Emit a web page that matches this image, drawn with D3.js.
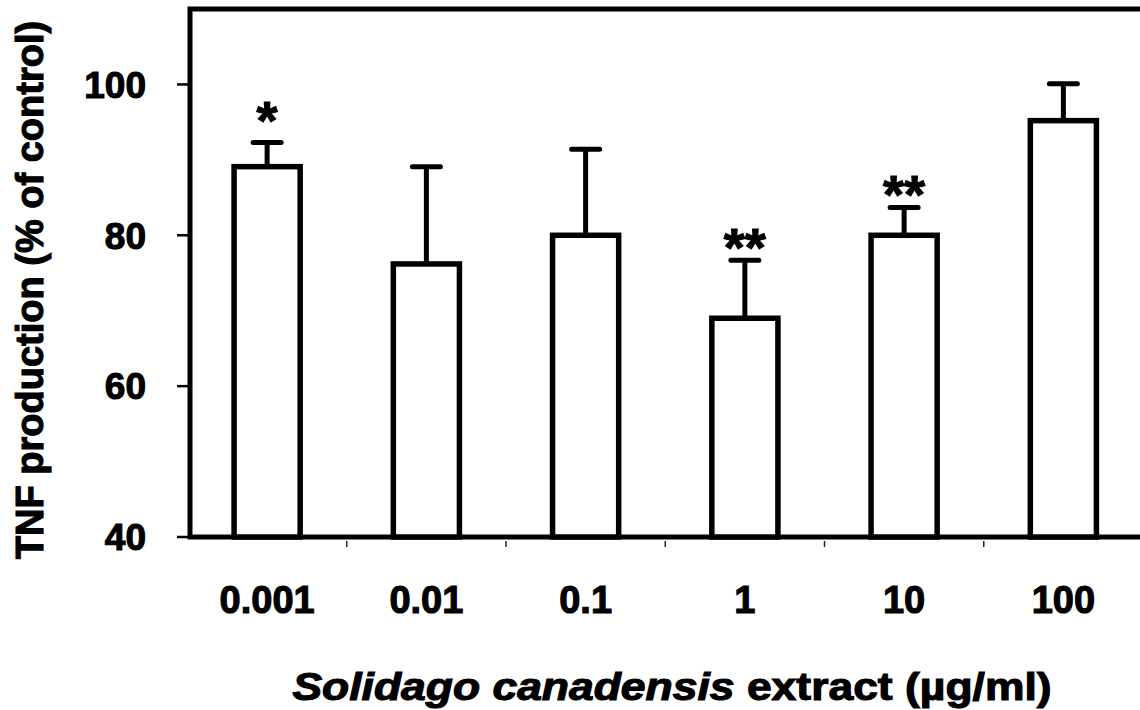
<!DOCTYPE html>
<html>
<head>
<meta charset="utf-8">
<script src="https://cdn.jsdelivr.net/npm/d3@7"></script>
<style>
  body { margin: 0; background: #fff; }
  svg { display: block; font-family: "Liberation Sans", Arial, sans-serif; font-weight: bold; }
  svg text { stroke: #000; stroke-width: 1.1px; paint-order: stroke; }
</style>
</head>
<body>
<div id="chart"></div>
<script>
// values
const doses = ["0.001", "0.01", "0.1", "1", "10", "100"];
const tnf = [89.1, 76.2, 80.0, 69.0, 80.0, 95.2];
const sem = [3.2, 12.9, 11.4, 7.7, 3.7, 4.9];
const stars = ["*", "", "", "**", "**", ""];
const yTicks = [40, 60, 80, 100];

const W = 1140, H = 710;
const plot = {left: 190, top: 9, bottom: 537};

const svg = d3.select("#chart").append("svg")
    .attr("width", W)
    .attr("height", H);

const x = d3.scaleBand()
    .domain(doses)
    .range([187.5, 1143])
    .paddingInner(0.585)
    .paddingOuter(0.2925);

const xCat = d3.scaleBand()
    .domain(doses)
    .range([187.5, 1143]);

const y = d3.scaleLinear()
    .domain([40, 110])
    .range([plot.bottom, plot.top]);

const data = doses.map((d, i) => ({dose: d, v: tnf[i], e: sem[i], s: stars[i]}));

// frame (right side runs off the picture)
svg.append("rect")
    .attr("x", plot.left)
    .attr("y", plot.top)
    .attr("width", W + 20 - plot.left)
    .attr("height", plot.bottom - plot.top)
    .attr("fill", "none")
    .attr("stroke", "#000")
    .attr("stroke-width", 5);

// y axis ticks + labels
const yAxis = svg.append("g");
yAxis.selectAll("line")
    .data(yTicks)
    .join("line")
    .attr("x1", plot.left - 13).attr("x2", plot.left)
    .attr("y1", d => y(d)).attr("y2", d => y(d))
    .attr("stroke", "#000").attr("stroke-width", 2.5);
yAxis.selectAll("text")
    .data(yTicks)
    .join("text")
    .attr("x", 146)
    .attr("y", d => y(d))
    .attr("dy", "0.36em")
    .attr("text-anchor", "end")
    .style("font-size", "37px")
    .text(d => d);

// small marks between categories under the axis
svg.append("g").selectAll("line")
    .data(doses.slice(1))
    .join("line")
    .attr("x1", d => xCat(d)).attr("x2", d => xCat(d))
    .attr("y1", plot.bottom + 4).attr("y2", plot.bottom + 10)
    .attr("stroke", "#222").attr("stroke-width", 1.5);

// x labels
svg.append("g").selectAll("text")
    .data(doses)
    .join("text")
    .attr("x", d => x(d) + x.bandwidth() / 2)
    .attr("y", 613)
    .attr("text-anchor", "middle")
    .style("font-size", "38px")
    .text(d => d);

// error bars
const eb = svg.append("g").attr("stroke", "#000").attr("stroke-width", 5);
eb.selectAll(".stem")
    .data(data)
    .join("line")
    .attr("class", "stem")
    .attr("x1", d => x(d.dose) + x.bandwidth() / 2)
    .attr("x2", d => x(d.dose) + x.bandwidth() / 2)
    .attr("y1", d => y(d.v))
    .attr("y2", d => y(d.v + d.e));
eb.selectAll(".cap")
    .data(data)
    .join("line")
    .attr("class", "cap")
    .attr("stroke-linecap", "round")
    .attr("x1", d => x(d.dose) + x.bandwidth() / 2 - 14)
    .attr("x2", d => x(d.dose) + x.bandwidth() / 2 + 14)
    .attr("y1", d => y(d.v + d.e))
    .attr("y2", d => y(d.v + d.e));

// bars
svg.append("g").selectAll("rect")
    .data(data)
    .join("rect")
    .attr("x", d => x(d.dose))
    .attr("y", d => y(d.v))
    .attr("width", x.bandwidth())
    .attr("height", d => y(40) - y(d.v))
    .attr("fill", "#fff")
    .attr("stroke", "#000")
    .attr("stroke-width", 5.5);

// significance marks
svg.append("g").selectAll("text")
    .data(data.filter(d => d.s))
    .join("text")
    .attr("x", d => x(d.dose) + x.bandwidth() / 2)
    .attr("y", d => y(d.v + d.e) + (d.s.length === 1 ? -4 : 6))
    .attr("text-anchor", "middle")
    .style("font-size", "54px")
    .text(d => d.s);

// axis titles
svg.append("text")
    .attr("transform", "translate(43,290) rotate(-90)")
    .attr("text-anchor", "middle")
    .style("font-size", "38px")
    .text("TNF production (% of control)");

const xt = svg.append("text")
    .attr("transform", "translate(672,700) scale(1.17,1)")
    .attr("text-anchor", "middle")
    .style("font-size", "38px");
xt.append("tspan").style("font-style", "italic").text("Solidago canadensis");
xt.append("tspan").text(" extract (µg/ml)");
</script>
</body>
</html>
